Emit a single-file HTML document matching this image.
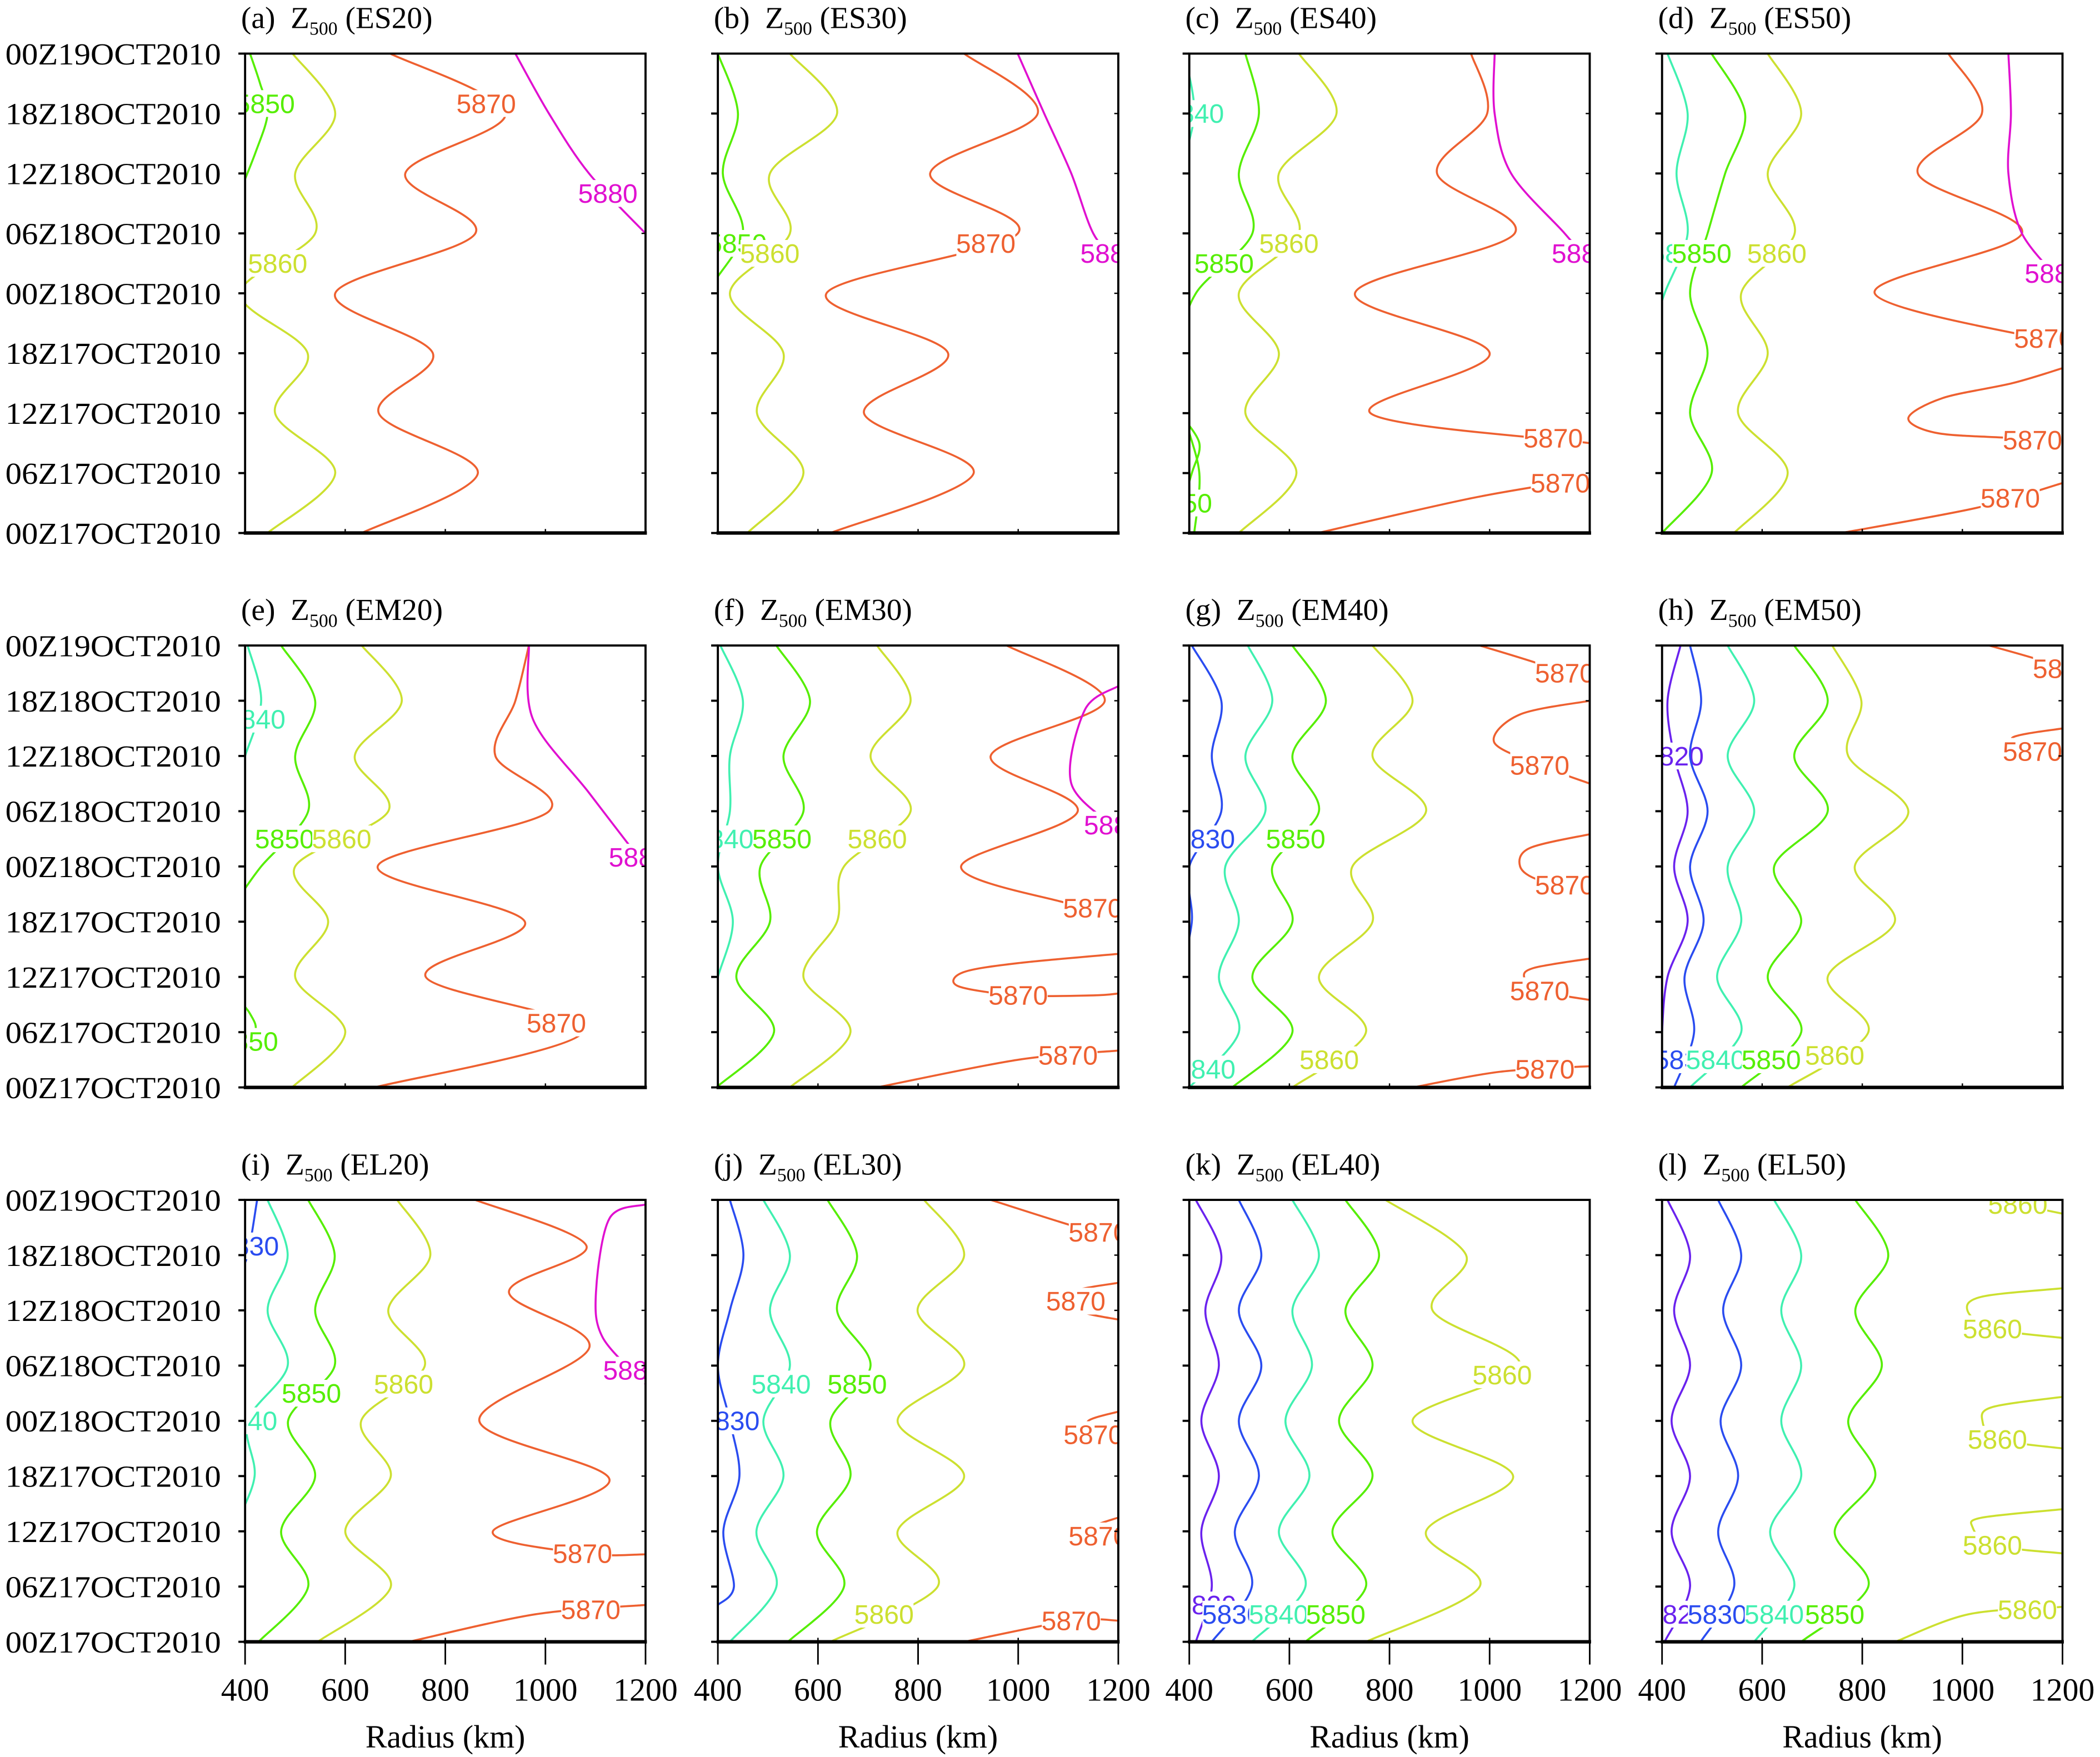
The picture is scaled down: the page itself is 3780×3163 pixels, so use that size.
<!DOCTYPE html>
<html><head><meta charset="utf-8">
<style>
html,body{margin:0;padding:0;background:#fff;}
svg{display:block;}
.sf{font-family:"Liberation Serif","Times New Roman",serif;}
.ss{font-family:"Liberation Sans",Arial,sans-serif;}
</style></head>
<body>
<svg id="fig" xmlns="http://www.w3.org/2000/svg" width="3780" height="3163" viewBox="0 0 1568 1312"></svg>
<script>
// ---- data: contour lines (radius km vs hours since 00Z17OCT2010) ----
const hours = [0,6,12,18,24,30,36,42,48];
const xTicks = [400,600,800,1000,1200];
const yTickLabels = ["00Z17OCT2010","06Z17OCT2010","12Z17OCT2010","18Z17OCT2010","00Z18OCT2010","06Z18OCT2010","12Z18OCT2010","18Z18OCT2010","00Z19OCT2010"];
const panelIds = ["a","b","c","d","e","f","g","h","i","j","k","l"];
const panelNames = ["ES20","ES30","ES40","ES50","EM20","EM30","EM40","EM50","EL20","EL30","EL40","EL50"];
const levelColors = {5820:"#6a22ee",5830:"#2a4cf0",5840:"#40f0b0",5850:"#55ee00",5860:"#cce030",5870:"#ee6030",5880:"#e010d0"};

const panelA = [
 [5850,[[380,33],[420,38],[445,42],[430,45],[410,48]],43],
 [5860,[445,580,460,525,390,540,500,580,495],27],
 [5870,[633,865,667,775,580,860,720,920,690],43],
 [5880,[[1200,30],[1087,36],[1007,42],[940,48]],34]];
const panelB = [
 [5850,[350,350,350,350,380,450,410,440,400],29],
 [5860,[459,571,478,531,424,544,504,638,544],28],
 [5870,[625,911,692,860,617,999,824,1039,892],29],
 [5880,[[1200,27],[1150,30],[1106,36],[1052,42],[999,48]],28]];
const panelC = [
 [5840,[[380,36],[410,42],[390,48]],42],
 [5850,[410,420,390,380,413,526,499,539,512],27],
 [5850,[[380,2],[405,6],[420,9],[380,12]],3],
 [5860,[499,614,512,579,499,619,579,694,619],29],
 [5870,[[1200,9],[762,12],[1000,18],[731,24],[1050,30],[895,36],[995,42],[963,48]],9.5],
 [5870,[[657,0],[965,3.5],[1200,5.5]],5],
 [5880,[[1200,27],[1150,30],[1043,36],[1010,42],[1010,48]],28]];
const panelD = [
 [5840,[[380,20],[405,24],[451,30],[429,36],[451,42],[411,48]],28],
 [5850,[400,499,456,491,456,491,526,566,499],28],
 [5860,[544,651,552,611,558,665,611,678,611],28],
 [5870,[[758,0],[1026,2.5],[1200,5]],3.5],
 [5870,[[1200,16.5],[1100,15],[960,13.5],[892,11.5],[950,10],[1100,9.5],[1200,9]],9.3],
 [5870,[[1200,19],[825,24],[1119,30],[911,36],[1039,42],[972,48]],19.5],
 [5880,[[1200,25],[1119,30],[1092,36],[1097,42],[1092,48]],26]];
const panelE = [
 [5840,[[380,33],[400,36],[432,42],[405,48]],40],
 [5850,[[380,20],[432,24],[526,30],[500,36],[540,42],[472,48]],27],
 [5850,[[380,3],[420,6],[410,8],[380,10]],5],
 [5860,[494,600,500,566,500,686,619,713,633],27],
 [5870,[659,1074,761,959,665,1007,900,940,967],7],
 [5880,[[1200,24],[1087,32],[975,40],[967,48]],25]];
const panelF = [
 [5840,[[380,8],[400,12],[430,18],[400,24],[424,30],[424,36],[450,42],[405,48]],27],
 [5850,[397,512,437,504,485,571,531,584,517],27],
 [5860,[544,665,571,638,652,785,705,785,718],27],
 [5870,[[1200,19],[1098,20],[886,24],[1119,30],[945,36],[1173,42],[977,48]],19.5],
 [5870,[[1200,14.5],[1000,13.5],[890,12.5],[880,11],[1000,10],[1150,10],[1200,10.2]],10],
 [5870,[[718,0],[999,3],[1200,4]],3.5],
 [5880,[[1200,43.6],[1133,41],[1106,33],[1200,28]],28.5]];
const panelG = [
 [5830,[[380,12],[405,18],[400,24],[464,30],[445,36],[464,42],[405,48]],27],
 [5840,[400,499,459,499,472,552,512,566,517],2],
 [5850,[486,606,526,606,566,659,606,673,606],27],
 [5860,[606,753,659,766,726,873,766,846,766],3],
 [5870,[[980,48],[1100,46],[1200,44]],45],
 [5870,[[1200,42],[1060,40.5],[1009,37.5],[1100,35],[1200,33]],35],
 [5870,[[1200,27.5],[1080,26],[1061,24],[1100,22.5],[1200,21.5]],22],
 [5870,[[1200,14],[1090,13],[1069,12],[1100,10.5],[1200,9.5]],10.5],
 [5870,[[847,0],[1021,1.7],[1200,2.3]],2]];
const panelH = [
 [5820,[400,400,411,451,424,451,424,411,437],36],
 [5830,[424,464,445,483,456,491,456,478,456],3],
 [5840,[456,558,510,558,531,584,531,584,531],3],
 [5850,[558,678,611,678,624,731,664,731,664],3],
 [5860,[651,812,731,865,785,892,772,798,740],3.5],
 [5870,[[1053,48],[1150,46.5],[1200,45.5]],45],
 [5870,[[1200,39],[1100,38],[1140,36.5],[1200,36]],36.5]];
const panelI = [
 [5830,[[424,48],[405,42],[380,39]],43],
 [5840,[370,375,380,419,405,485,445,485,445],24],
 [5850,[427,526,472,540,486,579,540,579,526],27],
 [5860,[545,691,600,691,632,759,686,770,704],28],
 [5870,[[1200,9.5],[1074,9.6],[895,12],[1128,17.6],[868,24],[1088,32],[927,38],[1082,43],[860,48]],9.6],
 [5870,[[727,0],[981,3],[1200,4]],3.5],
 [5880,[[1200,47.5],[1128,46],[1101,38],[1115,33],[1200,28]],29.5]];
const panelJ = [
 [5830,[[400,4],[432,6],[411,12],[443,18],[424,24],[400,30],[424,36],[451,42],[424,48]],24],
 [5840,[424,517,477,531,491,544,504,544,491],28],
 [5850,[540,652,598,665,625,705,638,678,619],28],
 [5860,[625,839,759,892,759,892,799,892,812],3],
 [5870,[[945,48],[1120,45],[1200,44]],44.5],
 [5870,[[1200,39],[1110,38],[1120,36],[1200,35]],37],
 [5870,[[1200,25],[1140,24],[1150,22.5],[1200,22]],22.5],
 [5870,[[1200,13.5],[1150,12.5],[1160,11.5],[1200,11]],11.5],
 [5870,[[892,0],[1106,2.3],[1200,2.3]],2.3]];
const panelK = [
 [5820,[413,445,424,459,424,459,432,464,413],4],
 [5830,[445,525,491,539,499,544,499,544,499],3],
 [5840,[525,632,579,640,592,645,606,659,606],3],
 [5850,[632,753,686,766,699,766,712,779,712],3],
 [5860,[753,980,873,1047,846,1061,886,953,792],29]];
const panelL = [
 [5820,[405,456,419,456,419,456,424,456,411],3],
 [5830,[477,544,512,552,517,558,522,558,512],3],
 [5840,[584,664,616,678,638,678,638,678,624],3],
 [5850,[678,812,745,826,772,839,786,852,786],3],
 [5860,[[866,0],[1013,3],[1200,3.8]],3.5],
 [5860,[[1066,48],[1200,46.5]],47.5],
 [5860,[[1200,38.4],[1040,37.5],[1010,36],[1060,34],[1200,33]],34],
 [5860,[[1200,26.6],[1060,25.5],[1040,24],[1070,22],[1200,21]],22],
 [5860,[[1200,14.4],[1040,13.5],[1020,12.5],[1060,10.5],[1200,9.6]],10.5]];
const panelData = [panelA,panelB,panelC,panelD,panelE,panelF,panelG,panelH,panelI,panelJ,panelK,panelL];

// ---- layout ----
const colX = [183,536,888,1241];
const PW = 299;
const rowTop = [40,482,896];
const rowH = [358,330,330];
const NS = "http://www.w3.org/2000/svg";
const svg = document.getElementById("fig");
function mk(tag, attrs, parent){
  const e = document.createElementNS(NS, tag);
  for (const k in attrs) e.setAttribute(k, attrs[k]);
  (parent||svg).appendChild(e);
  return e;
}
function catmull(p){
  if (p.length < 2) return "";
  let d = "M"+p[0][0].toFixed(1)+","+p[0][1].toFixed(1);
  for (let i=0;i<p.length-1;i++){
    const p0=p[Math.max(0,i-1)], p1=p[i], p2=p[i+1], p3=p[Math.min(p.length-1,i+2)];
    const k=0.16;
    const c1=[p1[0]+(p2[0]-p0[0])*k, p1[1]+(p2[1]-p0[1])*k];
    const c2=[p2[0]-(p3[0]-p1[0])*k, p2[1]-(p3[1]-p1[1])*k];
    d+=" C"+c1[0].toFixed(1)+","+c1[1].toFixed(1)+" "+c2[0].toFixed(1)+","+c2[1].toFixed(1)+" "+p2[0].toFixed(1)+","+p2[1].toFixed(1);
  }
  return d;
}
const SERIF = 'font-family:"Liberation Serif","Times New Roman",serif;';
const SANS = 'font-family:"Liberation Sans",Arial,sans-serif;';

panelIds.forEach((pid, idx) => {
  const row = Math.floor(idx/4), col = idx%4;
  const x0 = colX[col], y0 = rowTop[row], H = rowH[row];
  const xs = r => x0 + (r-400)/800*PW;
  const ys = t => y0 + H*(1 - t/48);
  const g = mk("g", {});
  
  

  const title = mk("text", {x:x0-3, y:y0-19, style:SERIF+"font-size:23px", fill:"#000"}, g);
  
  
  title.innerHTML = '('+pid+')\u2002Z<tspan style="font-size:14px" dy="5">500</tspan><tspan dy="-5"> ('+panelNames[idx]+')</tspan>';

  const cp = mk("clipPath", {id:"clip"+pid}, g);
  mk("rect", {x:x0, y:y0, width:PW, height:H}, cp);
  const cg = mk("g", {"clip-path":"url(#clip"+pid+")"}, g);

  panelData[idx].forEach((line) => {
    const lev = line[0], raw = line[1], lt = line[2];
    let pts;
    if (typeof raw[0] === "number") pts = raw.map((r,i)=>[r, hours[i]]);
    else pts = raw;
    const px = pts.map(p=>[xs(p[0]), ys(p[1])]);
    const path = mk("path", {d:catmull(px), fill:"none", stroke:levelColors[lev], "stroke-width":1.5, "stroke-linejoin":"round"}, cg);
    
    
    let best = 0, bd = 1e9;
    for (let i=0;i<pts.length;i++){ const d=Math.abs(pts[i][1]-lt); if(d<bd){bd=d;best=i;} }
    let lr = pts[best][0], ltt = pts[best][1];
    for (let i=0;i<pts.length-1;i++){
      const a=pts[i], b=pts[i+1];
      if ((a[1]-lt)*(b[1]-lt) <= 0 && a[1]!==b[1]){ const f=(lt-a[1])/(b[1]-a[1]); lr=a[0]+f*(b[0]-a[0]); ltt=lt; break; }
    }
    const lx = xs(lr), ly = ys(ltt);
    const bg = mk("rect", {x:lx-22, y:ly-10, width:44, height:20, fill:"#fff"}, cg);
    
    
    const tx = mk("text", {x:lx, y:ly+7, "text-anchor":"middle", style:SANS+"font-size:20px", fill:levelColors[lev]}, cg);
    
    
    tx.textContent = String(lev);
  });

  const fr = mk("rect", {x:x0, y:y0, width:PW, height:H, fill:"none", stroke:"#000", "stroke-width":1.6}, g);
  
  
  mk("line", {x1:x0-1, x2:x0+PW+1, y1:y0+H, y2:y0+H, stroke:"#000", "stroke-width":2.6}, g);

  yTickLabels.forEach((lab, i) => {
    const y = ys(i*6);
    mk("line", {x1:x0-5, x2:x0, y1:y, y2:y, stroke:"#000", "stroke-width":1.6}, g);
    mk("line", {x1:x0+PW-3, x2:x0+PW, y1:y, y2:y, stroke:"#000", "stroke-width":1}, g);
    if (col===0){
      const t = mk("text", {x:x0-18, y:y+8, "text-anchor":"end", style:SERIF+"font-size:23px", textLength:161, lengthAdjust:"spacingAndGlyphs", fill:"#000"}, g);
      
      
      t.textContent = lab;
    }
  });
  xTicks.forEach(v => {
    const x = xs(v);
    mk("line", {x1:x, x2:x, y1:y0+H-3, y2:y0+H, stroke:"#000", "stroke-width":1}, g);
    if (row===2){
      mk("line", {x1:x, x2:x, y1:y0+H, y2:y0+H+17, stroke:"#000", "stroke-width":1.2}, g);
      const t = mk("text", {x:x, y:y0+H+44, "text-anchor":"middle", style:SERIF+"font-size:24px", fill:"#000"}, g);
      
      
      t.textContent = String(v);
    }
  });
  if (row===2){
    const t = mk("text", {x:x0+PW/2, y:1305, "text-anchor":"middle", style:SERIF+"font-size:24px", fill:"#000"}, g);
    
    
    t.textContent = "Radius (km)";
  }
});
</script>
</body></html>
